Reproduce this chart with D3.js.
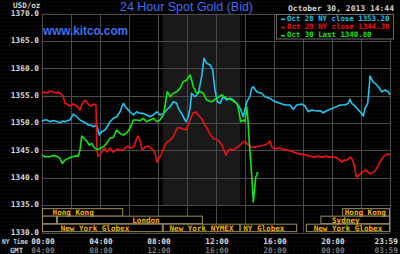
<!DOCTYPE html>
<html>
<head>
<meta charset="utf-8">
<script src="https://cdn.jsdelivr.net/npm/d3@7"></script>
<style>
  html, body { margin: 0; padding: 0; background: #000; }
  svg { display: block; }
  .mono { font-family: "DejaVu Sans Mono", "Liberation Mono", monospace; font-weight: bold; }
</style>
</head>
<body>
<div id="chart"></div>
<script>
// price history, [hour NY time, USD/oz]
const oct28 = [
  [0.00,1350.26],[0.14,1350.57],[0.32,1350.57],[0.55,1350.26],[0.76,1350.48],[0.90,1350.38],[1.10,1350.20],
  [1.24,1350.07],[1.45,1350.38],[1.59,1350.26],[1.79,1350.48],[1.93,1350.57],[2.16,1351.67],[2.39,1351.17],
  [2.62,1350.57],[2.85,1350.26],[3.03,1350.02],[3.19,1349.65],[3.38,1349.65],[3.54,1349.34],[3.77,1349.65],
  [3.95,1347.82],[4.12,1348.42],[4.34,1348.74],[4.57,1349.65],[4.69,1350.26],[4.92,1350.88],[5.15,1351.17],
  [5.38,1352.09],[5.61,1353.63],[5.84,1352.71],[6.07,1352.09],[6.30,1351.48],[6.53,1352.09],[6.76,1351.79],
  [6.99,1351.79],[7.22,1351.48],[7.45,1351.17],[7.68,1351.48],[7.91,1352.09],[8.14,1351.48],[8.37,1351.79],
  [8.60,1352.40],[8.83,1353.00],[9.06,1353.92],[9.29,1353.63],[9.40,1352.71],[9.63,1351.79],[9.74,1351.17],
  [9.93,1350.26],[10.09,1351.17],[10.21,1352.71],[10.32,1355.46],[10.55,1354.84],[10.78,1355.46],[11.01,1358.50],
  [11.17,1361.87],[11.36,1360.95],[11.59,1360.64],[11.77,1359.73],[11.93,1356.06],[12.09,1353.92],[12.28,1353.63],
  [12.50,1354.84],[12.74,1354.23],[12.97,1354.54],[13.19,1354.23],[13.43,1353.63],[13.66,1352.71],[13.88,1351.17],
  [14.12,1353.92],[14.34,1354.84],[14.46,1356.37],[14.57,1356.67],[14.81,1355.75],[15.15,1355.46],[15.38,1354.84],
  [15.72,1354.54],[16.07,1353.92],[16.41,1353.63],[16.76,1353.32],[17.10,1353.32],[17.33,1352.53],[17.57,1353.32],
  [17.91,1353.50],[18.14,1353.13],[18.37,1352.09],[18.60,1352.40],[18.94,1352.22],[19.17,1352.27],[19.40,1351.90],
  [19.74,1352.40],[20.21,1352.89],[20.55,1353.32],[20.90,1353.32],[21.12,1353.63],[21.24,1354.36],[21.36,1353.63],
  [21.59,1353.13],[21.81,1352.40],[22.05,1351.79],[22.16,1351.30],[22.28,1352.71],[22.46,1353.63],[22.57,1356.67],
  [22.62,1358.63],[22.81,1357.58],[22.97,1357.29],[23.19,1356.67],[23.43,1355.75],[23.66,1356.06],[23.88,1355.75],
  [24.00,1355.15]
];
const oct29 = [
  [0.00,1355.51],[0.14,1355.70],[0.34,1355.51],[0.55,1355.88],[0.76,1355.70],[0.97,1355.51],[1.10,1355.70],
  [1.31,1355.33],[1.45,1354.96],[1.59,1353.63],[1.72,1353.50],[1.93,1353.13],[2.14,1353.50],[2.28,1353.32],
  [2.48,1352.95],[2.62,1352.40],[2.76,1353.50],[2.97,1354.23],[3.10,1353.86],[3.24,1353.32],[3.38,1353.13],
  [3.59,1353.50],[3.72,1353.32],[3.79,1345.07],[3.86,1343.97],[4.00,1344.16],[4.14,1344.89],[4.34,1345.44],
  [4.48,1344.71],[4.69,1345.44],[4.90,1344.71],[5.17,1345.26],[5.38,1345.07],[5.59,1345.07],[5.79,1345.62],
  [5.93,1345.81],[6.14,1345.44],[6.34,1345.62],[6.48,1346.90],[6.62,1347.64],[6.76,1346.90],[6.90,1345.07],
  [7.10,1345.62],[7.31,1345.81],[7.52,1345.44],[7.66,1345.07],[7.79,1344.52],[7.93,1342.88],[8.07,1343.61],
  [8.21,1344.16],[8.34,1345.07],[8.55,1346.36],[8.83,1346.90],[9.03,1347.45],[9.17,1348.19],[9.31,1349.10],
  [9.59,1349.10],[9.72,1348.92],[9.93,1348.74],[10.07,1349.65],[10.21,1350.57],[10.41,1351.85],[10.62,1352.03],
  [10.83,1351.30],[11.03,1350.75],[11.24,1349.65],[11.45,1348.74],[11.66,1347.64],[11.86,1347.09],[12.00,1347.09],
  [12.21,1346.72],[12.41,1345.99],[12.55,1345.07],[12.69,1344.16],[12.83,1344.89],[12.97,1345.26],[13.17,1345.07],
  [13.38,1345.44],[13.59,1345.81],[13.79,1346.36],[14.00,1346.72],[14.21,1345.99],[14.48,1345.62],[14.76,1345.62],
  [15.03,1345.81],[15.38,1345.99],[15.59,1346.36],[15.72,1346.72],[15.86,1345.62],[16.07,1345.26],[16.34,1345.44],
  [16.62,1345.26],[16.90,1345.07],[17.17,1344.89],[17.52,1344.52],[17.86,1344.34],[18.21,1344.16],[18.48,1343.97],
  [18.76,1343.79],[19.03,1343.97],[19.31,1343.79],[19.59,1343.97],[19.86,1343.79],[20.14,1343.79],[20.34,1343.61],
  [20.55,1343.24],[20.69,1342.88],[20.83,1343.24],[21.03,1343.24],[21.24,1343.79],[21.38,1343.42],[21.52,1342.51],
  [21.66,1340.49],[21.72,1340.13],[21.86,1340.49],[22.00,1340.86],[22.21,1341.23],[22.34,1341.41],[22.48,1341.04],
  [22.62,1340.68],[22.83,1341.04],[22.97,1341.23],[23.17,1342.14],[23.38,1343.24],[23.59,1343.97],[23.79,1344.34],
  [24.00,1344.16]
];
const oct30 = [
  [0.00,1344.16],[0.21,1343.85],[0.55,1343.85],[0.76,1344.07],[1.01,1343.97],[1.24,1343.55],[1.40,1342.64],
  [1.59,1343.24],[1.81,1343.55],[2.05,1343.85],[2.28,1343.97],[2.50,1343.97],[2.62,1345.07],[2.74,1347.64],
  [2.90,1347.22],[3.12,1346.59],[3.26,1345.99],[3.43,1346.30],[3.59,1345.57],[3.77,1345.20],[4.00,1345.38],
  [4.23,1345.68],[4.46,1346.30],[4.69,1347.22],[4.92,1347.40],[5.15,1348.74],[5.38,1348.13],[5.61,1347.82],
  [5.84,1348.24],[6.07,1349.05],[6.30,1350.57],[6.53,1350.57],[6.76,1350.44],[6.99,1350.88],[7.22,1350.26],
  [7.45,1350.57],[7.68,1350.88],[7.91,1350.26],[8.14,1350.57],[8.37,1351.48],[8.48,1353.00],[8.64,1355.75],
  [8.83,1354.84],[9.06,1355.46],[9.29,1355.75],[9.52,1356.37],[9.74,1357.58],[9.98,1357.89],[10.21,1358.81],
  [10.32,1357.89],[10.43,1356.67],[10.67,1355.46],[10.90,1355.75],[11.12,1355.46],[11.36,1354.23],[11.70,1353.92],
  [12.05,1354.54],[12.39,1355.15],[12.74,1354.54],[13.08,1354.23],[13.43,1353.63],[13.54,1352.77],[13.70,1350.26],
  [13.88,1350.57],[14.00,1350.26],[14.12,1353.00],[14.19,1351.17],[14.30,1346.30],[14.39,1343.24],[14.50,1338.97],
  [14.57,1335.60],[14.64,1337.14],[14.74,1340.18],[14.81,1340.49],[14.85,1340.92],[14.92,1340.80]
];

const yTicks = [1370, 1365, 1360, 1355, 1350, 1345, 1340, 1335, 1330];
const gridHours = [2, 4, 6, 8, 10, 12, 14, 16, 18, 20, 22];
const nyHours = [0, 4, 8, 12, 16, 20, 24];
const nyLabels = ["00:00", "04:00", "08:00", "12:00", "16:00", "20:00", "23:59"];
const gmtLabels = ["04:00", "08:00", "12:00", "16:00", "20:00", "00:00", "03:59"];
const pitHours = [8.33, 13.67];

// trading sessions: row, start hour, end hour, label, label hour
const sessions = [
  [0, 0, 5.6, "Hong Kong", 2.15],
  [0, 20.7, 24, "Hong Kong", 22.3],
  [1, 0, 1.03, "", 0],
  [1, 1.03, 11.1, "London", 7.17],
  [1, 19.2, 24, "Sydney", 20.95],
  [2, 0, 8.33, "New York Globex", 3.65],
  [2, 8.33, 13.67, "New York NYMEX", 11.0],
  [2, 13.67, 17.6, "NY Globex", 15.3],
  [2, 18.2, 24, "New York Globex", 21.1]
];

const legendItems = [
  ["Oct 28 NY close 1353.20", "#1ec4f2"],
  ["Oct 29 NY close 1344.30", "#f01010"],
  ["Oct 30 Last 1340.80", "#14e614"]
];
const seriesList = [[oct28, "#1ec4f2"], [oct29, "#f01010"], [oct30, "#14e614"]];

const width = 400, height = 254;
const x = d3.scaleLinear().domain([0, 24]).range([42, 390]);
const y = d3.scaleLinear().domain([1330, 1370]).range([232.5, 13.8]);

const svg = d3.select("#chart").append("svg")
  .attr("width", width)
  .attr("height", height);

// dotted screen background
const defs = svg.append("defs");
const pat = defs.append("pattern")
  .attr("id", "dots").attr("width", 4).attr("height", 4)
  .attr("patternUnits", "userSpaceOnUse");
pat.append("rect").attr("width", 4).attr("height", 4).attr("fill", "#000");
pat.append("rect").attr("x", 1).attr("y", 1).attr("width", 1).attr("height", 1).attr("fill", "#1a1a1a");
svg.append("rect").attr("width", width).attr("height", height).attr("fill", "url(#dots)");

// NYMEX pit hours shading
svg.append("rect")
  .attr("x", x(pitHours[0]))
  .attr("y", y(1370))
  .attr("width", x(pitHours[1]) - x(pitHours[0]))
  .attr("height", y(1335) - y(1370))
  .attr("fill", "#191919");

// grid
const grid = svg.append("g").attr("stroke", "#4a4a4a").attr("stroke-width", 1);
grid.selectAll(".h").data(yTicks).enter().append("line")
  .attr("x1", x(0)).attr("x2", x(24))
  .attr("y1", d => Math.round(y(d)) + 0.5).attr("y2", d => Math.round(y(d)) + 0.5);
grid.selectAll(".v").data([0].concat(gridHours, [24])).enter().append("line")
  .attr("y1", y(1370)).attr("y2", y(1330))
  .attr("x1", d => Math.round(x(d)) + 0.5).attr("x2", d => Math.round(x(d)) + 0.5);

// session boxes
const rowTop = [y(1335) + 3.5, y(1335) + 11, y(1335) + 19];
const rowH = 7.5;
const sess = svg.append("g");
sess.selectAll("rect").data(sessions).enter().append("rect")
  .attr("x", d => x(d[1]) + 0.5)
  .attr("y", d => rowTop[d[0]])
  .attr("width", d => x(d[2]) - x(d[1]) - 1)
  .attr("height", rowH)
  .attr("fill", "#000")
  .attr("stroke", "#9a8e58")
  .attr("stroke-width", 1);
sess.selectAll("text").data(sessions.filter(d => d[3])).enter().append("text")
  .attr("class", "mono")
  .attr("x", d => x(d[4]))
  .attr("y", d => rowTop[d[0]] + rowH / 2 + 2.7)
  .attr("text-anchor", "middle")
  .attr("font-size", 7.6)
  .attr("fill", "#f0b400")
  .text(d => d[3]);

// price lines
const line = d3.line().x(d => x(d[0])).y(d => y(d[1]));
svg.append("g").selectAll("path").data(seriesList).enter().append("path")
  .attr("d", d => line(d[0]))
  .attr("fill", "none")
  .attr("stroke", d => d[1])
  .attr("stroke-width", 1.6)
  .attr("stroke-linejoin", "round");

// y axis labels
const yAxis = svg.append("g")
  .attr("transform", `translate(${x(0) - 2},-0.8)`)
  .call(d3.axisLeft(y).tickValues(yTicks).tickSize(0).tickPadding(1).tickFormat(d => d.toFixed(1)));
yAxis.select(".domain").remove();
yAxis.selectAll("text")
  .attr("class", "mono")
  .attr("font-size", 7.8)
  .attr("fill", "#d8d8d8");

svg.append("text").attr("class", "mono")
  .attr("x", 13).attr("y", 8)
  .attr("font-size", 7.6).attr("fill", "#d8d8d8")
  .text("USD/oz");

// time labels
const tl = svg.append("g").attr("class", "mono").attr("font-size", 7.8);
tl.selectAll(".ny").data(nyHours).enter().append("text")
  .attr("x", (d, i) => i === nyHours.length - 1 ? x(d) + 8 : x(d) + 1)
  .attr("y", 243.5)
  .attr("text-anchor", (d, i) => i === nyHours.length - 1 ? "end" : "middle")
  .attr("fill", "#dcdcdc")
  .text((d, i) => nyLabels[i]);
tl.selectAll(".gmt").data(nyHours).enter().append("text")
  .attr("x", (d, i) => i === nyHours.length - 1 ? x(d) + 8 : x(d) + 1)
  .attr("y", 253)
  .attr("text-anchor", (d, i) => i === nyHours.length - 1 ? "end" : "middle")
  .attr("fill", "#767676")
  .text((d, i) => gmtLabels[i]);
tl.append("text").attr("x", 2).attr("y", 243.5).attr("fill", "#cfcfcf").attr("font-size", 7)
  .attr("textLength", 26).attr("lengthAdjust", "spacingAndGlyphs").text("NY Time");
tl.append("text").attr("x", 10).attr("y", 253).attr("fill", "#cfcfcf").attr("font-size", 7.2).text("GMT");

// titles
svg.append("text")
  .attr("x", 120).attr("y", 11)
  .attr("font-family", "Liberation Sans, Arial, sans-serif")
  .attr("font-size", 12.5)
  .attr("textLength", 133).attr("lengthAdjust", "spacingAndGlyphs")
  .attr("fill", "#3f6ff2")
  .text("24 Hour Spot Gold (Bid)");
svg.append("text")
  .attr("x", 43).attr("y", 35)
  .attr("font-family", "Liberation Sans, Arial, sans-serif")
  .attr("font-size", 12).attr("font-weight", "bold")
  .attr("textLength", 85).attr("lengthAdjust", "spacingAndGlyphs")
  .attr("fill", "#3f6ff2")
  .text("www.kitco.com");
svg.append("text").attr("class", "mono")
  .attr("x", 288).attr("y", 11)
  .attr("font-size", 7.8)
  .attr("textLength", 106).attr("lengthAdjust", "spacingAndGlyphs")
  .attr("fill", "#d0d0d0")
  .text("October 30, 2013 14:44");

// legend
const lg = svg.append("g");
lg.append("rect")
  .attr("x", 276.5).attr("y", 14.5).attr("width", 117).attr("height", 24.5)
  .attr("fill", "#000").attr("stroke", "#6a6a6a");
const li = lg.selectAll("g").data(legendItems).enter().append("g")
  .attr("transform", (d, i) => `translate(0,${20.5 + i * 8.2})`);
li.append("rect").attr("x", 281).attr("y", -2).attr("width", 4).attr("height", 1.6).attr("fill", d => d[1]);
li.append("text").attr("class", "mono")
  .attr("x", 287).attr("y", 0.5)
  .attr("font-size", 7.4)
  .attr("fill", d => d[1])
  .text(d => d[0]);
</script>
</body>
</html>
